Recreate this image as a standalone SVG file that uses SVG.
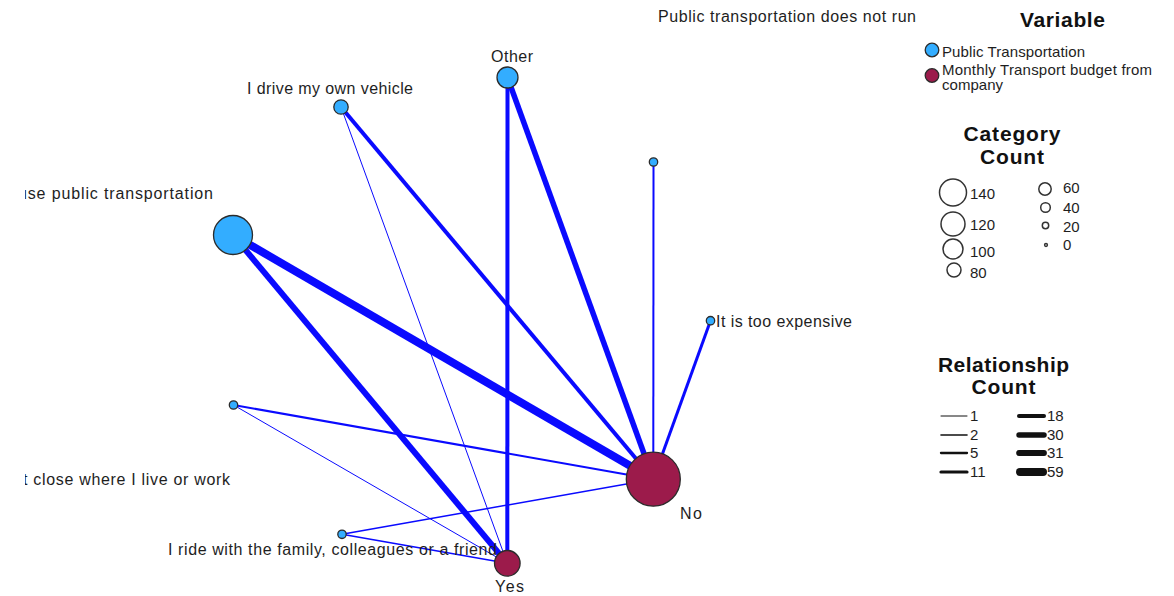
<svg xmlns="http://www.w3.org/2000/svg" width="1174" height="596" viewBox="0 0 1174 596">
<style>
.e{stroke:#0a0aff;fill:none;stroke-linecap:butt}
.pt{fill:#33adff;stroke:#2b2b2b;stroke-width:1.3}
.mb{fill:#9c1b4b;stroke:#2b2b2b;stroke-width:1.3}
.lb{font-family:"Liberation Sans",Arial,sans-serif;font-size:16px;fill:#1e1e1e}
.lg{font-family:"Liberation Sans",Arial,sans-serif;font-size:15px;fill:#1e1e1e}
.tt{font-family:"Liberation Sans",Arial,sans-serif;font-size:21px;font-weight:bold;fill:#111;text-anchor:middle}
.lc{fill:none;stroke:#333;stroke-width:1.5}
.ll{stroke:#111;stroke-linecap:round}
</style>
<defs>
<clipPath id="clipL"><rect x="25" y="0" width="1149" height="596"/></clipPath>
</defs>
<rect width="1174" height="596" fill="#fff"/>
<g id="connectors">
<line class="e" x1="233" y1="235" x2="653.3" y2="479.2" stroke-width="8"/>
<line class="e" x1="233" y1="235" x2="507.3" y2="563.3" stroke-width="6"/>
<line class="e" x1="507.5" y1="77.5" x2="653.3" y2="479.2" stroke-width="5.5"/>
<line class="e" x1="507.5" y1="77.5" x2="507.3" y2="563.3" stroke-width="4"/>
<line class="e" x1="341" y1="107" x2="653.3" y2="479.2" stroke-width="4"/>
<line class="e" x1="341" y1="107" x2="507.3" y2="563.3" stroke-width="1"/>
<line class="e" x1="653.5" y1="162" x2="653.3" y2="479.2" stroke-width="2"/>
<line class="e" x1="710.5" y1="320.7" x2="653.3" y2="479.2" stroke-width="3"/>
<line class="e" x1="233.5" y1="405" x2="653.3" y2="479.2" stroke-width="2"/>
<line class="e" x1="233.5" y1="405" x2="507.3" y2="563.3" stroke-width="1"/>
<line class="e" x1="342" y1="534.3" x2="653.3" y2="479.2" stroke-width="1.5"/>
<line class="e" x1="342" y1="534.3" x2="507.3" y2="563.3" stroke-width="1.5"/>
</g>
<g id="node-public-not-run">
<circle class="pt" cx="653.5" cy="162" r="4.2"/>
<text class="lb" x="658" y="22" textLength="258" lengthAdjust="spacing">Public transportation does not run</text>
</g>
<g id="node-other">
<circle class="pt" cx="507.5" cy="77.5" r="10.5"/>
<text class="lb" x="491" y="62" textLength="42" lengthAdjust="spacing">Other</text>
</g>
<g id="node-drive">
<circle class="pt" cx="341" cy="107" r="7.2"/>
<text class="lb" x="247" y="94" textLength="166" lengthAdjust="spacing">I drive my own vehicle</text>
</g>
<g id="node-use-public">
<circle class="pt" cx="233" cy="235" r="19.5"/>
<text class="lb" x="18" y="199" textLength="195" lengthAdjust="spacing" clip-path="url(#clipL)">use public transportation</text>
</g>
<g id="node-expensive">
<circle class="pt" cx="710.5" cy="320.7" r="4.2"/>
<text class="lb" x="716" y="327" textLength="136" lengthAdjust="spacing">It is too expensive</text>
</g>
<g id="node-not-close">
<circle class="pt" cx="233.5" cy="405" r="4.2"/>
<text class="lb" x="23" y="485" textLength="207" lengthAdjust="spacing" clip-path="url(#clipL)">t close where I live or work</text>
</g>
<g id="node-ride">
<circle class="pt" cx="342" cy="534.3" r="4.2"/>
<text class="lb" x="168" y="555" textLength="329" lengthAdjust="spacing">I ride with the family, colleagues or a friend</text>
</g>
<g id="node-yes">
<circle class="mb" cx="507.3" cy="563.3" r="12.8"/>
<text class="lb" x="495" y="592" textLength="29" lengthAdjust="spacing">Yes</text>
</g>
<g id="node-no">
<circle class="mb" cx="653.3" cy="479.2" r="27"/>
<text class="lb" x="680" y="519" textLength="22" lengthAdjust="spacing">No</text>
</g>
<g id="legend-variable">
<text class="tt" x="1062.5" y="27" textLength="85" lengthAdjust="spacing">Variable</text>
<circle class="pt" cx="932" cy="50" r="6.8"/>
<text class="lg" x="942" y="57" textLength="143" lengthAdjust="spacing">Public Transportation</text>
<circle class="mb" cx="932" cy="75.5" r="6.8"/>
<text class="lg" x="942" y="75" textLength="210" lengthAdjust="spacing">Monthly Transport budget from</text>
<text class="lg" x="942" y="90" textLength="61" lengthAdjust="spacing">company</text>
</g>
<g id="legend-category">
<text class="tt" x="1012" y="141" textLength="97" lengthAdjust="spacing">Category</text>
<text class="tt" x="1012" y="164" textLength="64" lengthAdjust="spacing">Count</text>
<circle class="lc" cx="953" cy="192.5" r="13.5"/>
<text class="lg" x="970" y="199">140</text>
<circle class="lc" cx="953" cy="224" r="12"/>
<text class="lg" x="970" y="230">120</text>
<circle class="lc" cx="953" cy="249" r="10"/>
<text class="lg" x="970" y="257">100</text>
<circle class="lc" cx="954" cy="270" r="7"/>
<text class="lg" x="970" y="278">80</text>
<circle class="lc" cx="1045" cy="189" r="6.2"/>
<text class="lg" x="1063" y="193">60</text>
<circle class="lc" cx="1045.5" cy="207.5" r="4.8"/>
<text class="lg" x="1063" y="213">40</text>
<circle class="lc" cx="1045.5" cy="225.5" r="3.2"/>
<text class="lg" x="1063" y="232">20</text>
<circle class="lc" cx="1046" cy="245" r="1.4"/>
<text class="lg" x="1063" y="250">0</text>
</g>
<g id="legend-relationship">
<text class="tt" x="1003.5" y="372" textLength="131" lengthAdjust="spacing">Relationship</text>
<text class="tt" x="1003.5" y="394" textLength="64" lengthAdjust="spacing">Count</text>
<line class="ll" x1="941" y1="416" x2="967" y2="416" stroke-width="1"/>
<text class="lg" x="970" y="421">1</text>
<line class="ll" x1="941" y1="435" x2="967" y2="435" stroke-width="1.6"/>
<text class="lg" x="970" y="440">2</text>
<line class="ll" x1="941" y1="453" x2="967" y2="453" stroke-width="2.3"/>
<text class="lg" x="970" y="458">5</text>
<line class="ll" x1="941" y1="472" x2="967" y2="472" stroke-width="3.2"/>
<text class="lg" x="970" y="477">11</text>
<line class="ll" x1="1019" y1="416" x2="1044" y2="416" stroke-width="4"/>
<text class="lg" x="1047" y="421">18</text>
<line class="ll" x1="1019" y1="435" x2="1044" y2="435" stroke-width="5.5"/>
<text class="lg" x="1047" y="440">30</text>
<line class="ll" x1="1019" y1="453" x2="1044" y2="453" stroke-width="5.8"/>
<text class="lg" x="1047" y="458">31</text>
<line class="ll" x1="1020" y1="472" x2="1043" y2="472" stroke-width="8"/>
<text class="lg" x="1047" y="477">59</text>
</g>
</svg>
